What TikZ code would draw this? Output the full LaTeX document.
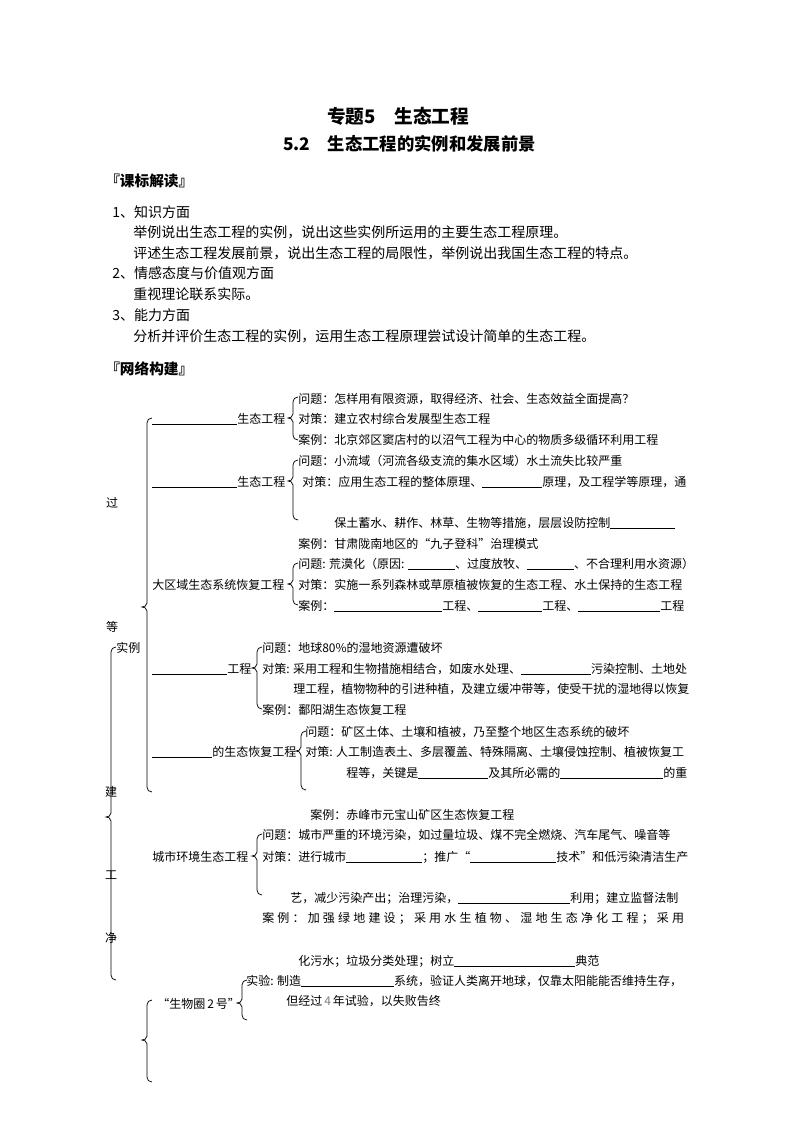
\documentclass[tikz,border=0pt]{standalone}
\usepackage{fontspec}
\setmainfont{Noto Sans CJK SC}
\newlength{\pxu}\setlength{\pxu}{0.75pt}
\newcommand{\blank}[1]{\rule[-1.2pt]{#1\pxu}{0.45pt}}
\newcommand{\mybrace}[4]{%
  \draw[bracestyle] (#1+5,#2) .. controls (#1+2,#2) and (#1,#2+2) .. (#1,#2+5)
    -- (#1,#3-4) .. controls (#1,#3-1) and (#1-3,#3) .. (#1-5,#3)
    .. controls (#1-3,#3) and (#1,#3+1) .. (#1,#3+4)
    -- (#1,#4-5) .. controls (#1,#4-2) and (#1+2,#4) .. (#1+5,#4);}
\tikzset{
  net/.style={anchor=base west, inner sep=0pt, font=\fontsize{9pt}{11pt}\selectfont},
  body/.style={anchor=base west, inner sep=0pt, font=\fontsize{10.5pt}{13pt}\selectfont},
  head/.style={anchor=base west, inner sep=0pt, font=\fontsize{11pt}{13pt}\selectfont\bfseries},
  cj/.style={anchor=center, inner sep=0pt, font=\fontsize{9pt}{11pt}\selectfont},
  bracestyle/.style={line width=0.55pt, black},
  spread/.style={font=\fontsize{9pt}{11pt}\selectfont\addfontfeature{LetterSpace=26.5}}
}
\begin{document}
\begin{tikzpicture}[x=0.75pt,y=-0.75pt]
\useasboundingbox[fill=white] (0,0) rectangle (794,1123);

% titles
\node[anchor=base west, inner sep=0pt, font=\fontsize{14pt}{16pt}\selectfont\bfseries] (title) at (327,124) {专题5\hspace{1em}生态工程};
\node[anchor=base west, inner sep=0pt, font=\fontsize{13pt}{15pt}\selectfont\bfseries] (sub) at (283,151) {5.2\hspace{1em}生态工程的实例和发展前景};

% 课标解读
\node[head] (kb) at (105,187) {『课标解读』};
\node[body] (a1) at (112,218) {1、知识方面};
\node[body] (a2) at (133,238) {举例说出生态工程的实例，说出这些实例所运用的主要生态工程原理。};
\node[body] (a3) at (133,258) {评述生态工程发展前景，说出生态工程的局限性，举例说出我国生态工程的特点。};
\node[body] (a4) at (112,278) {2、情感态度与价值观方面};
\node[body] (a5) at (133,299) {重视理论联系实际。};
\node[body] (a6) at (112,320) {3、能力方面};
\node[body] (a7) at (133,341) {分析并评价生态工程的实例，运用生态工程原理尝试设计简单的生态工程。};
\node[head] (wl) at (105,374) {『网络构建』};

% left vertical characters
\node[cj] (c1) at (112,503) {过};
\node[cj] (c2) at (112,627) {等};
\node[cj] (c3) at (111,792) {建};
\node[cj] (c4) at (111,875) {工};
\node[cj] (c5) at (111,938) {净};
\node[net] (sl) at (116,652) {实例};

% big braces
\mybrace{147}{418}{607}{792}
\mybrace{111}{647}{817}{980}
\mybrace{147}{1000}{1040}{1082}

% group 1
\node[net] (g1) at (152,423) {\blank{85}生态工程};
\node[net] (g1q) at (298,403) {问题：怎样用有限资源，取得经济、社会、生态效益全面提高？};
\node[net] (g1d) at (298,423) {对策：建立农村综合发展型生态工程};
\node[net] (g1c) at (298,444) {案例：北京郊区窦店村的以沼气工程为中心的物质多级循环利用工程};
\mybrace{293}{397}{418}{440}

% group 2
\node[net] (g2) at (152,486) {\blank{85}生态工程};
\node[net] (g2q) at (298,465) {问题：小流域（河流各级支流的集水区域）水土流失比较严重};
\node[net] (g2d) at (302,486) {对策：应用生态工程的整体原理、\blank{60}原理，及工程学等原理，通};
\node[net] (g2e) at (334,527) {保土蓄水、耕作、林草、生物等措施，层层设防控制\blank{65}};
\node[net] (g2c) at (298,548) {案例：甘肃陇南地区的“九子登科”治理模式};
\mybrace{293}{460}{481}{520}

% group 3
\node[net] (g3) at (152,589) {大区域生态系统恢复工程};
\node[net] (g3q) at (298,568) {问题: 荒漠化（原因: \blank{47}、过度放牧、\blank{47}、不合理利用水资源）};
\node[net] (g3d) at (298,589) {对策：实施一系列森林或草原植被恢复的生态工程、水土保持的生态工程};
\node[net] (g3c) at (298,610) {案例：\blank{108}工程、\blank{64}工程、\blank{82}工程};
\mybrace{293}{563}{584}{605}

% group 4
\node[net] (g4) at (152,673) {\blank{75}工程};
\node[net] (g4q) at (262,652) {问题：地球80\%的湿地资源遭破坏};
\node[net] (g4d) at (262,673) {对策: 采用工程和生物措施相结合，如废水处理、\blank{70}污染控制、土地处};
\node[net] (g4e) at (293,693) {理工程，植物物种的引进种植，及建立缓冲带等，使受干扰的湿地得以恢复};
\node[net] (g4c) at (262,714) {案例：鄱阳湖生态恢复工程};
\mybrace{257}{647}{668}{709}

% group 5
\node[net] (g5) at (152,756) {\blank{60}的生态恢复工程};
\node[net] (g5q) at (305,736) {问题：矿区土体、土壤和植被，乃至整个地区生态系统的破坏};
\node[net] (g5d) at (305,756) {对策: 人工制造表土、多层覆盖、特殊隔离、土壤侵蚀控制、植被恢复工};
\node[net] (g5e) at (346,777) {程等，关键是\blank{70}及其所必需的\blank{103}的重};
\node[net] (g5c) at (310,819) {案例：赤峰市元宝山矿区生态恢复工程};
\mybrace{301}{731}{751}{790}

% group 6
\node[net] (g6) at (152,861) {城市环境生态工程};
\node[net] (g6q) at (262,839) {问题：城市严重的环境污染，如过量垃圾、煤不完全燃烧、汽车尾气、噪音等};
\node[net] (g6d) at (262,861) {对策：进行城市\blank{76}；推广“\blank{86}技术”和低污染清洁生产};
\node[net] (g6e) at (290,902) {艺，减少污染产出；治理污染，\blank{112}利用；建立监督法制};
\node[net, spread] (g6c) at (262,922) {案例：加强绿地建设；采用水生植物、湿地生态净化工程；采用};
\node[net] (g6f) at (298,965) {化污水；垃圾分类处理；树立\blank{121}典范};
\mybrace{257}{834}{856}{895}

% group 7
\node[net] (g7) at (157,1008) {“生物圈\,2\,号”};
\node[net] (g7q) at (246,985) {实验: 制造\blank{93}系统，验证人类离开地球，仅靠太阳能能否维持生存，};
\node[net] (g7e) at (286,1005) {但经过\,{\color{gray}4}\,年试验，以失败告终};
\mybrace{242}{980}{1003}{1020}
\end{tikzpicture}
\end{document}
